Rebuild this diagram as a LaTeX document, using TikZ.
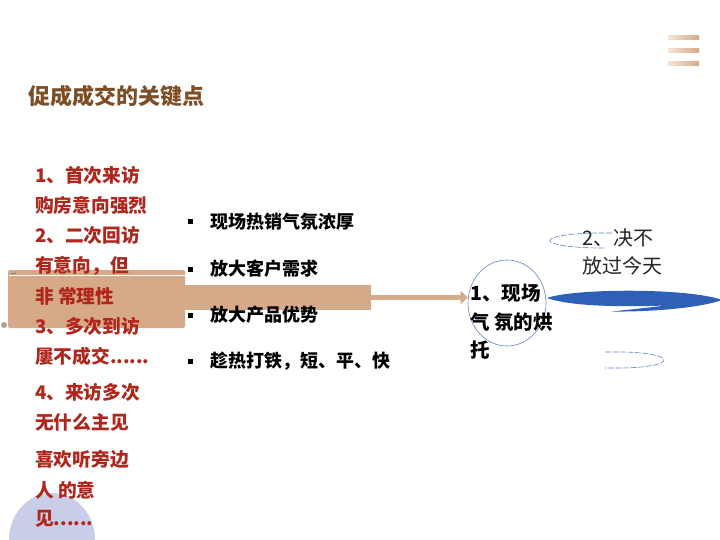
\documentclass[tikz,border=0pt]{standalone}
\usepackage{fontspec}
\setmainfont{Noto Sans CJK SC}
\usepackage{tikz}
\usetikzlibrary{arrows.meta,positioning,calc,shapes.geometric}
\definecolor{tanbar}{RGB}{214,170,136}
\definecolor{tanlight}{RGB}{246,228,214}
\definecolor{titlebrown}{RGB}{125,78,38}
\definecolor{redtext}{RGB}{176,38,28}
\definecolor{swoopblue}{RGB}{46,96,184}
\definecolor{ringblue}{RGB}{100,130,200}
\definecolor{lilac}{RGB}{201,205,232}
\definecolor{dotgray}{RGB}{180,160,140}

\begin{document}
\begin{tikzpicture}[x=1pt,y=-1pt,
  redline/.style={anchor=north west,inner sep=0pt,align=left,text=redtext,
                  font=\fontsize{18.7}{30.5}\selectfont\bfseries},
  point/.style={anchor=west,inner sep=0pt,font=\fontsize{18}{20}\selectfont\bfseries},
  bullet/.style={fill=black,minimum size=5pt,inner sep=0pt},
  stripe/.style={left color=tanlight,right color=tanbar},
  halfring/.style={draw=ringblue,line width=0.6pt,dash pattern=on 6pt off 1.5pt}
]
\useasboundingbox[fill=white] (0,0) rectangle (720,540);

% corner decoration
\shade[stripe] (668,36) rectangle (699,40);
\shade[stripe] (668,49) rectangle (699,53);
\shade[stripe] (668,62) rectangle (699,66);
\fill[lilac] (9,540) arc[start angle=180,end angle=360,x radius=43,y radius=47];

\node[anchor=west,inner sep=0pt,text=titlebrown,font=\fontsize{22}{24}\selectfont\bfseries]
  (title) at (28,96) {促成成交的关键点};

% tan block and arrow
\fill[tanbar,rounded corners=2pt] (8,270) rectangle (185,328);
\draw[white,line width=1.5pt] (9,275.5) -- (185,275.5);
\draw[gray,line width=1pt] (11,274) -- (16,273);
\fill[dotgray] (4,325) circle (3);
\node[fill=tanbar,minimum width=187pt,minimum height=25pt,inner sep=0pt,anchor=west]
  (bar) at (184,297.5) {};
\node[draw=ringblue,line width=0.6pt,ellipse,minimum width=78pt,minimum height=86pt]
  (ring) at (507,303) {};
\draw[-{Triangle[length=7pt,width=13pt]},tanbar,line width=5pt]
  (bar.east) -- (bar.east -| ring.west);

% left text
\node[redline] (visit1) at (35,166) {1、首次来访\\购房意向强烈};
\node[redline] (visit2) at (35,226) {2、二次回访\\有意向，但\\非 常理性};
\node[redline] (visit3) at (35,317) {3、多次到访\\屢不成交......};
\node[redline] (visit4) at (35,383) {4、来访多次\\无什么主见\\[6.5pt]喜欢听旁边\\人 的意\\[-2.5pt]见......};

% bullet points
\node[point] (p1) at (210,222) {现场热销气氛浓厚};
\node[point] (p2) at (210,269) {放大客户需求};
\node[point] (p3) at (210,315) {放大产品优势};
\node[point] (p4) at (210,361) {趁热打铁，短、平、快};
\node[bullet,left=17pt of p1] (b1) {};
\node[bullet,left=17pt of p2] (b2) {};
\node[bullet,left=17pt of p3] (b3) {};
\node[bullet,left=17pt of p4] (b4) {};

% right side
\node[anchor=north west,inner sep=0pt,align=left,font=\fontsize{19.5}{28.5}\selectfont\bfseries]
  (ringtext) at (470,284) {1、现场\\气 氛的烘\\托};
\fill[swoopblue] (547,298) .. controls (575,288) and (690,288) .. (722,300)
  .. controls (700,308) and (650,312) .. (612,311.5)
  .. controls (630,309.5) and (650,307.5) .. (665,305.5)
  .. controls (640,306.5) and (575,308) .. (547,298) -- cycle;
\draw[halfring] (612,233) -- (600,233) arc[start angle=270,end angle=90,x radius=50,y radius=7.5] -- (605,248);
\draw[halfring] (605,352) -- (620,352) arc[start angle=270,end angle=450,x radius=44,y radius=8] -- (605,368);
\node[anchor=north west,inner sep=0pt,align=left,text=black!85,font=\fontsize{20}{28}\selectfont]
  (keep) at (582,229) {2、决不\\放过今天};
\end{tikzpicture}
\end{document}
